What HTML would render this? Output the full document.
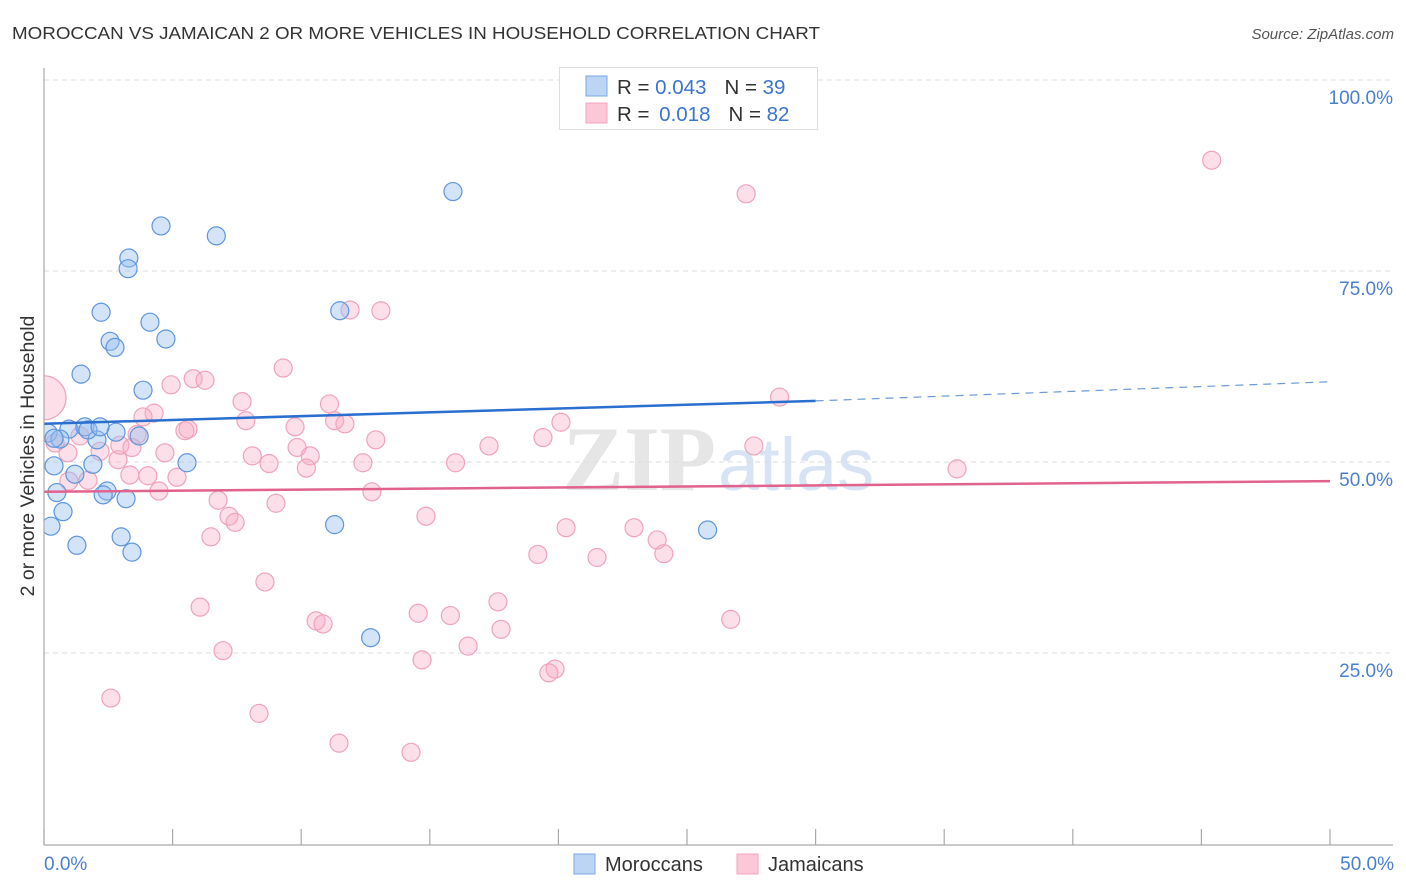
<!DOCTYPE html>
<html><head><meta charset="utf-8">
<style>
body{margin:0;background:#fff;font-family:"Liberation Sans",sans-serif;}
#wrap{position:relative;width:1406px;height:892px;overflow:hidden;}
</style></head>
<body>
<div id="wrap">
<svg id="svg" width="1406" height="892" xmlns="http://www.w3.org/2000/svg">
<defs><clipPath id="plotclip"><rect x="44" y="60" width="1360" height="785"/></clipPath></defs>
<text x="12" y="39" font-size="17.5" fill="#333" textLength="808" lengthAdjust="spacingAndGlyphs">MOROCCAN VS JAMAICAN 2 OR MORE VEHICLES IN HOUSEHOLD CORRELATION CHART</text>
<text x="1394" y="39" font-size="15" fill="#555" font-style="italic" text-anchor="end">Source: ZipAtlas.com</text>
<text x="716" y="490" font-size="92" fill="#e6e6e6" font-family="Liberation Serif" text-anchor="end" font-weight="bold">ZIP</text>
<text x="718" y="490" font-size="74" fill="#d8e4f3" text-anchor="start">atlas</text>
<g id="grid"></g>
<g id="pts" clip-path="url(#plotclip)"></g>
<g id="lines"></g>
<line x1="44" y1="68" x2="44" y2="845" stroke="#aaa" stroke-width="1.2"/>
<line x1="44" y1="845" x2="1393" y2="845" stroke="#aaa" stroke-width="1.2"/>
<g id="ticks"></g>
<text x="34" y="456" font-size="19.5" fill="#333" text-anchor="middle" transform="rotate(-90 34 456)">2 or more Vehicles in Household</text>
<text x="44" y="870" font-size="19" fill="#4a7fd0">0.0%</text>
<text x="1394" y="870" font-size="19" fill="#4a7fd0" text-anchor="end">50.0%</text>
<g>
<rect x="559.5" y="67.5" width="258" height="62" fill="#fff" stroke="#ddd"/>
<rect x="586" y="76" width="21" height="20" fill="#bcd5f5" stroke="#7aa7e3"/>
<rect x="586" y="103" width="21" height="20" fill="#fcc8d8" stroke="#f2a5bd"/>
<text x="617" y="94" font-size="20.5" fill="#333">R = <tspan fill="#3a75cf">0.043</tspan><tspan dx="18">N = </tspan><tspan fill="#3a75cf">39</tspan></text>
<text x="617" y="121" font-size="20.5" fill="#333">R = <tspan dx="4" fill="#3a75cf">0.018</tspan><tspan dx="18">N = </tspan><tspan fill="#3a75cf">82</tspan></text>
</g>
<g>
<rect x="574" y="854" width="21" height="20" fill="#bcd5f5" stroke="#7aa7e3"/>
<text x="605" y="871" font-size="20" fill="#333">Moroccans</text>
</g>
<g>
<rect x="737" y="854" width="21" height="20" fill="#fcc8d8" stroke="#f2a5bd"/>
<text x="768" y="871" font-size="20" fill="#333">Jamaicans</text>
</g>
</svg>
</div>
<script>
const yTicks=[25,50,75,100];
const yTickLabels=["25.0%","50.0%","75.0%","100.0%"];
const xTicks=[0,5,10,15,20,25,30,35,40,45,50];
const blueX=[15.9,4.55,6.7,3.3,3.27,11.5,2.22,4.12,4.74,2.57,2.76,1.44,3.85,0.16,0.97,1.59,2.06,0.62,2.8,3.7,0.39,1.2,1.9,5.56,0.5,2.45,2.3,3.19,0.74,0.27,11.3,25.8,3.0,1.28,3.42,12.7,1.71,2.18,0.39];
const blueY=[85.4,80.9,79.6,76.7,75.3,69.8,69.6,68.3,66.1,65.8,65.0,61.5,59.4,53.8,54.3,54.6,52.9,53.0,53.9,53.4,49.5,48.4,49.7,49.9,46.0,46.2,45.7,45.2,43.5,41.6,41.8,41.1,40.2,39.1,38.2,27.0,54.2,54.6,53.1];
const pinkX=[0,45.4,27.3,11.9,13.1,9.3,4.94,5.8,6.26,28.6,7.7,4.28,3.85,7.85,11.1,11.3,11.7,9.76,5.48,5.6,20.1,3.62,19.4,12.9,9.84,17.3,27.6,2.18,4.7,8.1,10.35,2.88,8.75,12.4,16.0,10.2,35.5,4.04,3.34,5.17,0.97,1.71,4.47,12.75,6.77,9.02,7.19,7.43,14.85,20.3,22.94,6.49,23.84,19.2,21.5,24.1,8.59,17.65,6.07,14.55,15.8,10.58,10.85,26.7,17.77,16.49,6.96,14.7,19.87,19.63,2.6,8.36,11.47,14.27,0.93,1.4,0.43,2.95,3.42];
const pinkY=[58.4,89.5,85.1,69.9,69.8,62.3,60.1,60.9,60.7,58.5,57.9,56.4,55.9,55.4,57.6,55.4,55.0,54.6,54.1,54.3,55.2,53.6,53.2,52.9,51.9,52.1,52.1,51.4,51.2,50.8,50.8,50.3,49.8,49.9,49.9,49.2,49.1,48.2,48.3,48.0,47.5,47.6,46.2,46.1,45.0,44.6,42.9,42.1,42.9,41.4,41.4,40.2,39.8,37.9,37.5,38.0,34.3,31.7,31.0,30.2,29.9,29.2,28.8,29.4,28.1,25.9,25.3,24.1,22.9,22.4,19.1,17.1,13.2,12.0,51.2,53.4,52.5,52.2,51.9];
const blueTrend=[[0,55.0],[30,58.0],[50,60.5]];
const pinkTrend=[[0,46.1],[50,47.5]];
const X=v=>44+v*25.72, Y=v=>844-v*7.64;
const NS="http://www.w3.org/2000/svg";
function mk(tag,attrs,parent){const e=document.createElementNS(NS,tag);for(const k in attrs)e.setAttribute(k,attrs[k]);parent.appendChild(e);return e;}
const grid=document.getElementById('grid'),pts=document.getElementById('pts'),lines=document.getElementById('lines'),ticks=document.getElementById('ticks'),svg=document.getElementById('svg');
yTicks.forEach((t,i)=>{
 const l=mk('line',{x1:44,x2:1393,y1:Y(t),y2:Y(t),stroke:'#ddd','stroke-dasharray':'5,4'},grid);
 
 
 const tx=mk('text',{x:1393,y:Y(t)+24,'font-size':19,fill:'#4a7fd0','text-anchor':'end'},svg);
 tx.textContent=yTickLabels[i];
 
 
});
xTicks.forEach(t=>{
 const l=mk('line',{x1:X(t),x2:X(t),y1:829,y2:845,stroke:'#aaa','stroke-width':1.2},ticks);
 
 
});
pinkX.forEach((x,i)=>{
 const c=mk('circle',{cx:X(x),cy:Y(pinkY[i]),r:i===0?22:9,fill:'rgba(246,172,197,0.38)',stroke:'#f0a3bb','stroke-width':1.2},pts);
 
 
});
blueX.forEach((x,i)=>{
 const c=mk('circle',{cx:X(x),cy:Y(blueY[i]),r:9,fill:'rgba(150,190,238,0.42)',stroke:'#5e96dd','stroke-width':1.2},pts);
 
 
});
const b1=mk('line',{x1:X(blueTrend[0][0]),y1:Y(blueTrend[0][1]),x2:X(blueTrend[1][0]),y2:Y(blueTrend[1][1]),stroke:'#2a6fd0','stroke-width':2.5},lines);


const b2=mk('line',{x1:X(blueTrend[1][0]),y1:Y(blueTrend[1][1]),x2:X(blueTrend[2][0]),y2:Y(blueTrend[2][1]),stroke:'#6a9ad8','stroke-width':1.2,'stroke-dasharray':'8,6'},lines);


const p1=mk('line',{x1:X(pinkTrend[0][0]),y1:Y(pinkTrend[0][1]),x2:X(pinkTrend[1][0]),y2:Y(pinkTrend[1][1]),stroke:'#e2628e','stroke-width':2.5},lines);


</script>
</body></html>
